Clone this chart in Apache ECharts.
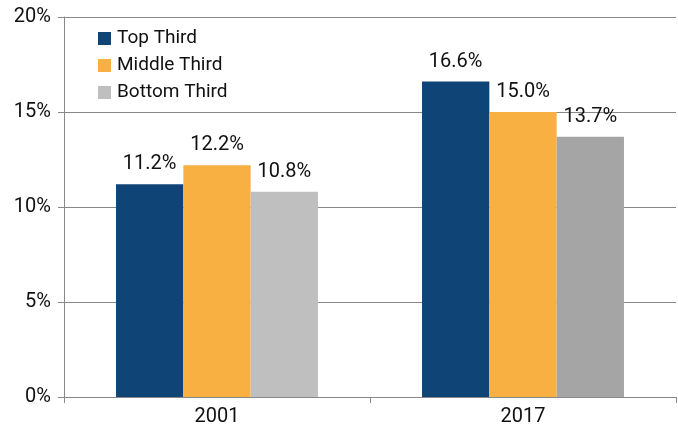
<!DOCTYPE html>
<html><head><meta charset="utf-8">
<script src="https://cdn.jsdelivr.net/npm/echarts@6/dist/echarts.min.js"></script>
<style>html,body{margin:0;padding:0;background:#fff}#c{width:678px;height:428px}</style>
</head><body><div id="c"></div>
<script>
var categories = ['2001', '2017'];
var seriesNames = ['Top Third', 'Middle Third', 'Bottom Third'];
var topThird = [11.2, 16.6];
var middleThird = [12.2, 15.0];
var bottomThird = [10.8, 13.7];
var yTicks = [0, 5, 10, 15, 20];

var FONT = 'Roboto, "Liberation Sans Narrow", sans-serif';
var colors = ['#0f4477', '#f9b043', '#bfbfbf'];
var bottomColors = ['#bfbfbf', '#a5a5a5'];

function mk(name, data, color, perColors) {
  return {
    name: name, type: 'bar', barGap: '0%', barCategoryGap: '34%',
    data: data.map(function (v, i) {
      var d = { value: v };
      if (perColors) d.itemStyle = { color: perColors[i] };
      return d;
    }),
    itemStyle: { color: color },
    label: { show: true, position: 'top', distance: 10, color: '#111', fontFamily: FONT, fontSize: 20,
      formatter: function (p) { return p.value.toFixed(1) + '%'; } }
  };
}

var chart = echarts.init(document.getElementById('c'));
chart.setOption({
  animation: false,
  grid: { left: 64, right: 2, top: 17, bottom: 31, containLabel: false },
  legend: {
    orient: 'vertical', left: 93, top: 24, itemWidth: 13, itemHeight: 13, itemGap: 8,
    icon: 'rect',
    textStyle: { fontFamily: FONT, fontSize: 19, color: '#111', padding: [0, 0, 0, 1] },
    data: seriesNames
  },
  xAxis: {
    type: 'category', data: categories,
    axisLine: { lineStyle: { color: '#888', width: 1 } },
    axisTick: { show: true, length: 6, lineStyle: { color: '#888' } },
    axisLabel: { fontFamily: FONT, fontSize: 20, color: '#111', margin: 10 }
  },
  yAxis: {
    type: 'value', min: yTicks[0], max: yTicks[yTicks.length - 1], interval: 5,
    axisLine: { show: true, lineStyle: { color: '#888', width: 1 } },
    axisTick: { show: true, inside: false, length: 6, lineStyle: { color: '#888' } },
    splitLine: { show: true, lineStyle: { color: '#888', width: 1 } },
    axisLabel: { fontFamily: FONT, fontSize: 20, color: '#111', margin: 13,
      formatter: function (v) { return v + '%'; } }
  },
  series: [
    mk(seriesNames[0], topThird, colors[0]),
    mk(seriesNames[1], middleThird, colors[1]),
    mk(seriesNames[2], bottomThird, colors[2], bottomColors)
  ]
});
</script></body></html>
